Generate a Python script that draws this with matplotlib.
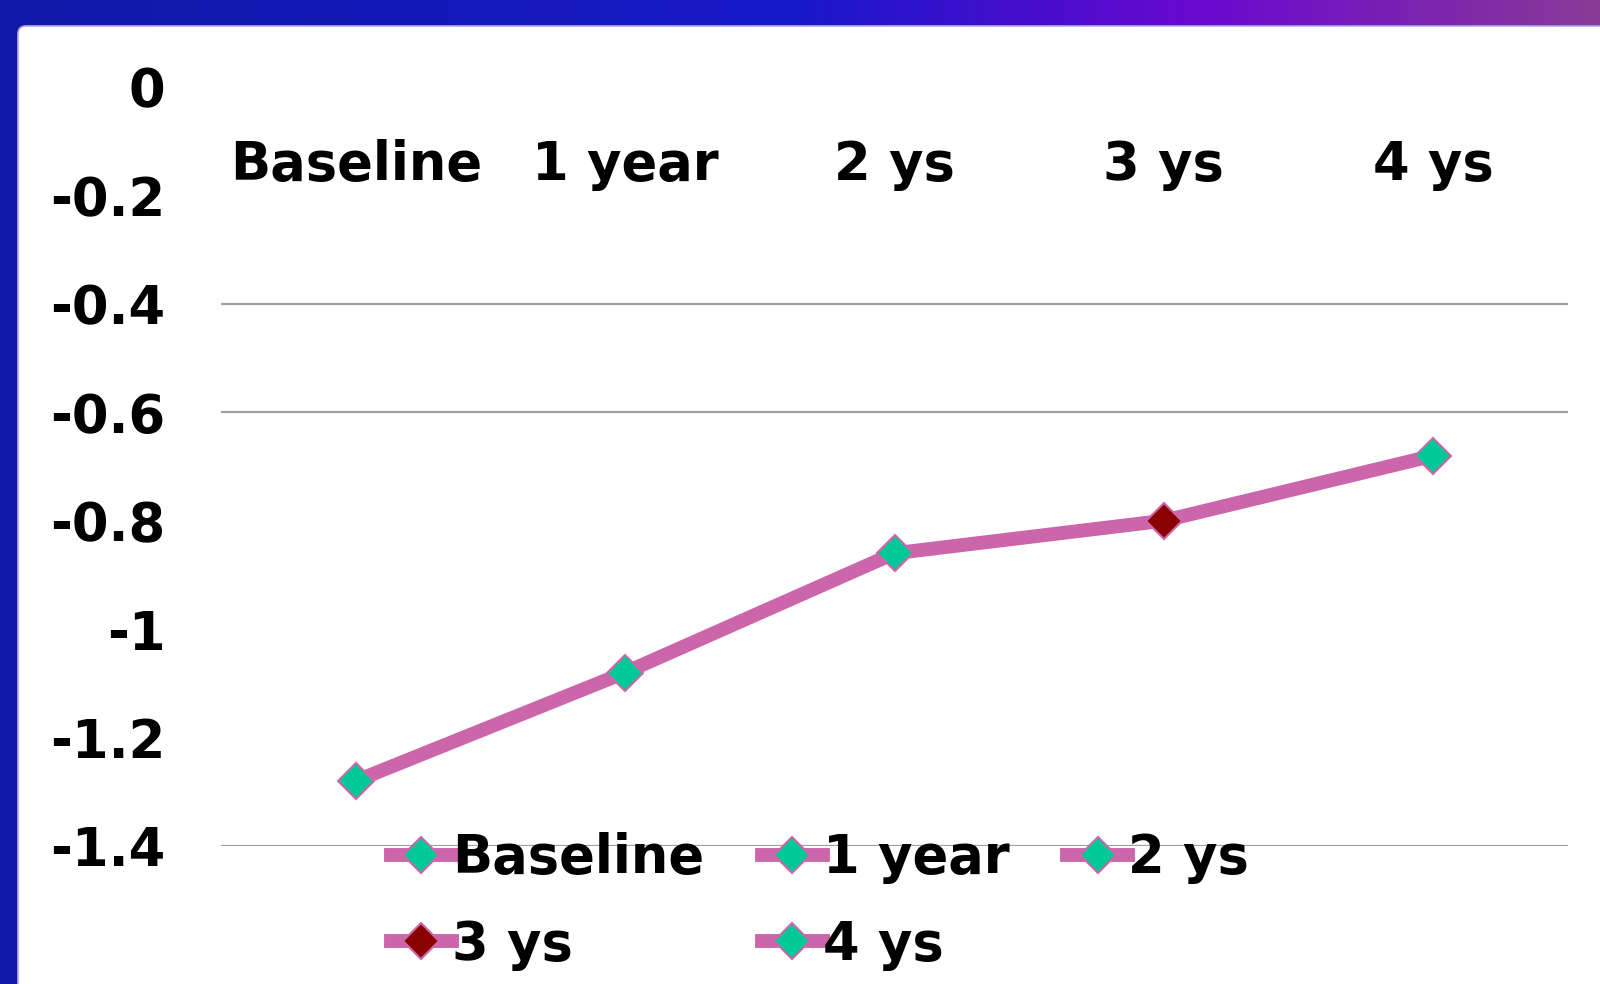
import numpy as np
import matplotlib
matplotlib.use("Agg")
import matplotlib.pyplot as plt
from matplotlib.patches import FancyBboxPatch
from matplotlib.transforms import IdentityTransform
from matplotlib.colors import LinearSegmentedColormap

categories = ["Baseline", "1 year", "2 ys", "3 ys", "4 ys"]
values = [-1.28, -1.08, -0.86, -0.80, -0.68]
marker_colors = ["#00C896", "#00C896", "#00C896", "#8B0000", "#00C896"]
yticks = [0, -0.2, -0.4, -0.6, -0.8, -1, -1.2, -1.4]
ytick_labels = ["0", "-0.2", "-0.4", "-0.6", "-0.8", "-1", "-1.2", "-1.4"]
gridlines = [-0.4, -0.6, -1.4]

pink = "#CC66AA"
W, H = 1600, 984
fs = 38

plt.rcParams["font.family"] = ["DejaVu Sans"]
plt.rcParams["font.weight"] = "bold"

fig = plt.figure(figsize=(W / 100, H / 100), dpi=100, facecolor="#1218A8")

# gradient band across the top
band = fig.add_axes([0, 1 - 25 / H, 1, 25 / H])
cmap = LinearSegmentedColormap.from_list(
    "band", [(0, "#1218A8"), (0.5, "#1818C8"), (0.75, "#6A08D0"), (1, "#8A3A98")])
band.imshow(np.linspace(0, 1, 400)[None, :], aspect="auto", cmap=cmap,
            extent=[0, 1, 0, 1])
band.axis("off")

# white panel with a rounded corner
panel = FancyBboxPatch((18, -50), W + 50, H - 25 + 50 - 1,
                       boxstyle="round,pad=0,rounding_size=8",
                       transform=IdentityTransform(), facecolor="white",
                       edgecolor="#B8A8F0", linewidth=1.2, zorder=1)
fig.patches.append(panel)

ax = fig.add_axes([221 / W, 1 - 846 / H, (1568 - 221) / W, (846 - 87) / H])
ax.set_facecolor("none")
ax.set_zorder(3)

x = np.arange(len(categories))
ax.plot(x, values, color=pink, linewidth=10, solid_capstyle="butt", zorder=2)

handles = []
for i, (cat, v, mc) in enumerate(zip(categories, values, marker_colors)):
    h, = ax.plot([i], [v], color=pink, linewidth=10, marker="D",
                 markersize=18, markerfacecolor=mc, markeredgecolor=pink,
                 markeredgewidth=1.5, label=cat, zorder=3)
    handles.append(h)

ax.hlines(gridlines, -0.5, 4.5, color="#A0A0A0", linewidth=1.6, zorder=1)

ax.set_xlim(-0.5, 4.5)
ax.set_ylim(-1.4, 0)
ax.set_yticks(yticks)
ax.set_yticklabels(ytick_labels)
ax.xaxis.tick_top()
ax.set_xticks(x)
ax.set_xticklabels(categories)
ax.tick_params(axis="y", length=0, pad=40, labelsize=fs)
ax.tick_params(axis="x", length=0, pad=-56, labelsize=fs)
for lab in ax.get_xticklabels():
    lab.set_verticalalignment("center")
for s in ax.spines.values():
    s.set_visible(False)

# legend filled row by row: reorder for matplotlib's column-major layout
order = [0, 3, 1, 4, 2]
leg = ax.legend([handles[i] for i in order], [categories[i] for i in order],
                ncol=3, loc="upper left", bbox_to_anchor=(391, H - 832),
                bbox_transform=IdentityTransform(), frameon=False,
                fontsize=fs, handlelength=1.15, handletextpad=0.0,
                columnspacing=1.1, labelspacing=0.66, borderpad=0,
                borderaxespad=0)

fig.savefig("out.png", dpi=100, facecolor=fig.get_facecolor())
